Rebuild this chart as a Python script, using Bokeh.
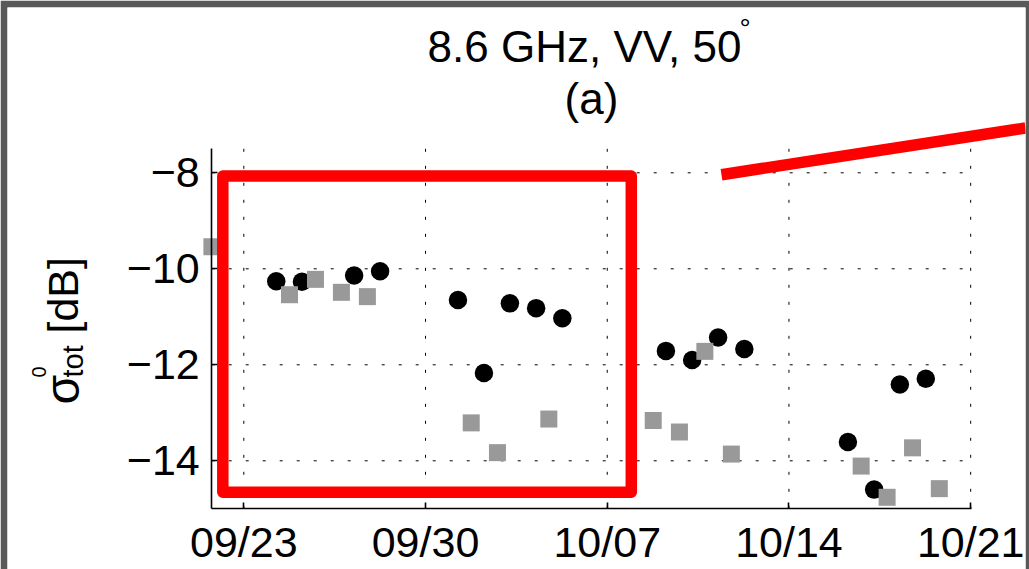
import math
import pandas as pd
from bokeh.plotting import figure
from bokeh.models import (Range1d, FixedTicker, DatetimeTickFormatter, Label,
                          BoxAnnotation, ColumnDataSource, Arrow)
from bokeh.embed import file_html
from bokeh.resources import INLINE

# ---------------- data ----------------
title_line1 = "8.6 GHz, VV, 50"
title_degree = "°"
title_line2 = "(a)"
ylabel_sigma = "σ"
ylabel_sup = "0"
ylabel_sub = "tot"
ylabel_unit = "[dB]"

x_tick_dates = ["2012-09-23", "2012-09-30", "2012-10-07", "2012-10-14", "2012-10-21"]
y_ticks = [-14, -12, -10, -8]
y_tick_labels = ["−14", "−12", "−10", "−8"]

x_start = "2012-09-21 18:20"
x_end = "2012-10-21 00:30"
y_start = -15.0
y_end = -7.5

circle_dates = ["2012-09-24 06:00", "2012-09-25 05:45", "2012-09-27 06:00", "2012-09-28 06:00",
                "2012-10-01 06:00", "2012-10-02 06:00", "2012-10-03 06:00", "2012-10-04 06:15",
                "2012-10-05 06:30", "2012-10-09 06:15", "2012-10-10 06:30", "2012-10-11 06:30",
                "2012-10-12 06:45", "2012-10-16 06:30", "2012-10-17 06:45", "2012-10-18 06:30",
                "2012-10-19 06:30"]
circle_values = [-10.26, -10.27, -10.14, -10.05,
                 -10.65, -12.17, -10.72, -10.82,
                 -11.03, -11.71, -11.90, -11.43,
                 -11.67, -13.61, -14.60, -12.41,
                 -12.29]

square_dates = ["2012-09-21 18:30", "2012-09-24 18:15", "2012-09-25 18:15", "2012-09-26 18:15",
                "2012-09-27 18:15", "2012-10-01 18:15", "2012-10-02 18:30", "2012-10-04 18:00",
                "2012-10-08 18:30", "2012-10-09 18:45", "2012-10-10 18:15", "2012-10-11 18:45",
                "2012-10-16 18:45", "2012-10-17 18:45", "2012-10-18 18:15", "2012-10-19 19:00"]
square_values = [-9.54, -10.54, -10.22, -10.49,
                 -10.58, -13.21, -13.83, -13.13,
                 -13.16, -13.40, -11.72, -13.86,
                 -14.11, -14.76, -13.73, -14.58]

# ---------------- layout helpers (page pixels -> data) ----------------
BASE = pd.Timestamp("2012-09-23")
DAY_MS = 86400000.0


def ms(ts):
    return pd.Timestamp(ts).value / 1e6


def px2x(px):
    return ms(BASE) + (px - 243.3) / 25.96 * DAY_MS


def py2y(py):
    return -8.0 - (py - 172.3) / 48.0


FONT = "Liberation Sans"
FRAME_GRAY = "#595959"

p = figure(width=1029, height=569, x_axis_type="datetime",
           x_range=Range1d(px2x(7), px2x(1025)),
           y_range=Range1d(py2y(569), py2y(7)),
           output_backend="svg", toolbar_location=None, title=None,
           min_border=0)
p.min_border_left = 7
p.min_border_right = 4
p.min_border_top = 7
p.min_border_bottom = 0
p.outline_line_color = None
p.background_fill_color = "white"
p.border_fill_color = FRAME_GRAY
p.grid.visible = False

# axes
xa = p.xaxis[0]
ya = p.yaxis[0]
xa.fixed_location = y_start
ya.fixed_location = ms(x_start)
xa.bounds = (ms(x_start), ms(x_end))
ya.bounds = (y_start, y_end)
xa.ticker = FixedTicker(ticks=[ms(d) for d in x_tick_dates])
xa.formatter = DatetimeTickFormatter(milliseconds="%m/%d", seconds="%m/%d", minsec="%m/%d",
                                     minutes="%m/%d", hourmin="%m/%d", hours="%m/%d",
                                     days="%m/%d", months="%m/%d", years="%m/%d")
ya.ticker = FixedTicker(ticks=y_ticks)
ya.major_label_overrides = dict(zip(y_ticks, y_tick_labels))
for ax in (xa, ya):
    ax.axis_line_color = "black"
    ax.axis_line_width = 1.6
    ax.major_tick_line_color = "black"
    ax.major_tick_line_width = 1.6
    ax.major_tick_in = 6
    ax.major_tick_out = 0
    ax.minor_tick_line_color = None
    ax.major_label_text_font = FONT
    ax.major_label_text_font_size = "43px"
    ax.major_label_text_color = "black"
xa.major_label_standoff = 9
ya.major_label_standoff = 12

# dotted grid, limited to the axes box
vx = [ms(d) for d in x_tick_dates]
p.segment(x0=vx, y0=[y_start] * len(vx), x1=vx, y1=[y_end] * len(vx),
          line_color="black", line_width=1, line_dash="3 14")
p.segment(x0=[ms(x_start)] * len(y_ticks), y0=y_ticks, x1=[ms(x_end)] * len(y_ticks), y1=y_ticks,
          line_color="black", line_width=1, line_dash="3 14")

# data
src_c = ColumnDataSource(dict(t=pd.to_datetime(circle_dates), v=circle_values))
src_s = ColumnDataSource(dict(t=pd.to_datetime(square_dates), v=square_values))
p.scatter("t", "v", source=src_c, marker="circle", size=18.5, fill_color="black", line_color=None)
p.scatter("t", "v", source=src_s, marker="square", size=17, fill_color="#999999", line_color=None)

# red annotations
p.add_layout(BoxAnnotation(left=px2x(222.3), right=px2x(630.8), top=py2y(175.5), bottom=py2y(491.7),
                           fill_alpha=0, fill_color=None, line_color="#ff0000", line_alpha=1.0,
                           line_width=11.5, line_join="round"))
p.add_layout(Arrow(end=None, x_start=px2x(721), y_start=py2y(174.2), x_end=px2x(1025), y_end=py2y(127.5),
                   line_color="#ff0000", line_width=11.5))


# text labels: anchor is the middle of the text box, i.e. ~0.346 em above the baseline
def lab(text, x_px, base_px, size_px, align="left", rotated=False):
    off = 0.346 * size_px
    if rotated:
        x, y, ang = px2x(x_px - off), py2y(base_px), math.pi / 2
    else:
        x, y, ang = px2x(x_px), py2y(base_px - off), 0.0
    p.add_layout(Label(x=x, y=y, text=text, text_font=FONT, text_font_size=f"{size_px}px",
                       text_align=align, text_baseline="middle", text_color="black",
                       angle=ang, angle_units="rad"))


# title (x = anchor, second = baseline)
lab(title_line1, 584, 61.5, 44, "center")
lab(title_degree, 739, 38, 28, "left")
lab(title_line2, 591, 113.7, 44, "center")

# y-axis label, rotated: (baseline x, start y)
lab(ylabel_sigma, 79, 404, 48, "left", True)
lab(ylabel_sup, 45, 377, 20, "left", True)
lab(ylabel_sub, 82.5, 377, 29, "left", True)
lab(ylabel_unit, 77.6, 333, 43, "left", True)

open("out.html", "w").write(file_html(p, INLINE))
